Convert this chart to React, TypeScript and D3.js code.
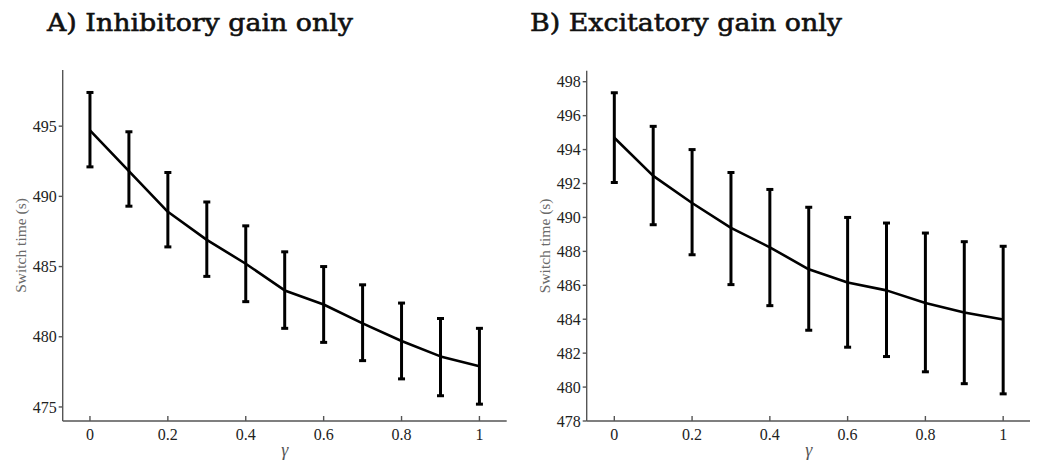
import React from "react";
import * as d3 from "d3";

const gamma = [0, 0.1, 0.2, 0.3, 0.4, 0.5, 0.6, 0.7, 0.8, 0.9, 1];
const inhMean = [494.7, 491.8, 488.9, 486.9, 485.2, 483.3, 482.3, 480.95, 479.7, 478.6, 477.9];
const inhUpper = [497.4, 494.6, 491.7, 489.6, 487.9, 486.05, 485.0, 483.7, 482.4, 481.3, 480.6];
const inhLower = [492.1, 489.3, 486.4, 484.3, 482.5, 480.6, 479.6, 478.3, 477.0, 475.8, 475.2];
const excMean = [494.7, 492.45, 490.85, 489.38, 488.24, 486.94, 486.16, 485.7, 484.96, 484.4, 483.98];
const excUpper = [497.35, 495.37, 494.0, 492.65, 491.65, 490.6, 490.0, 489.67, 489.08, 488.57, 488.3];
const excLower = [492.06, 489.57, 487.8, 486.04, 484.8, 483.35, 482.35, 481.8, 480.9, 480.2, 479.6];
const xTicks = [0, 0.2, 0.4, 0.6, 0.8, 1];
const inhYTicks = [475, 480, 485, 490, 495];
const excYTicks = [478, 480, 482, 484, 486, 488, 490, 492, 494, 496, 498];
const titles = ["A) Inhibitory gain only", "B) Excitatory gain only"];
const yLabel = "Switch time (s)";
const xLabel = "γ";

type PanelProps = {
  title: string;
  titleX: number;
  titleW: number;
  xDomain: [number, number];
  xRange: [number, number];
  yDomain: [number, number];
  yRange: [number, number];
  yTicks: number[];
  mean: number[];
  upper: number[];
  lower: number[];
  yLabelX: number;
};

const serif = "'Liberation Serif', 'Times New Roman', serif";
const titleFont = "'DejaVu Serif', serif";

function Panel(p: PanelProps) {
  const x = d3.scaleLinear().domain(p.xDomain).range(p.xRange);
  const y = d3.scaleLinear().domain(p.yDomain).range(p.yRange);
  const line = d3
    .line<number>()
    .x((_, i) => x(gamma[i]))
    .y((d) => y(d))
    .curve(d3.curveLinear);
  const x0 = p.xRange[0];
  const x1 = p.xRange[1];
  const yb = p.yRange[0];
  const yt = p.yRange[1];
  const axisColor = "#555";
  const tickColor = "#222";
  const cap = 3.5;
  return (
    <g>
      <text x={p.titleX} y={31} fontFamily={titleFont} fontSize={25} fill="#111"
        stroke="#111" strokeWidth={0.6}
        textLength={p.titleW} lengthAdjust="spacingAndGlyphs">
        {p.title}
      </text>
      <line x1={x0} x2={x0} y1={yt} y2={yb} stroke={axisColor} strokeWidth={1.4} />
      <line x1={x0} x2={x1} y1={yb} y2={yb} stroke={axisColor} strokeWidth={1.4} />
      {p.yTicks.map((t) => (
        <g key={"y" + t}>
          <line x1={x0 - 4} x2={x0} y1={y(t)} y2={y(t)} stroke={axisColor} strokeWidth={1.4} />
          <text x={x0 - 6} y={y(t)} dy="0.35em" textAnchor="end" fontFamily={serif} fontSize={16} fill={tickColor}>
            {t}
          </text>
        </g>
      ))}
      {xTicks.map((t) => (
        <g key={"x" + t}>
          <line x1={x(t)} x2={x(t)} y1={yb} y2={yb - 5} stroke={axisColor} strokeWidth={1.4} />
          <text x={x(t)} y={yb + 19} textAnchor="middle" fontFamily={serif} fontSize={16} fill={tickColor}>
            {String(t)}
          </text>
        </g>
      ))}
      <text x={(x(0) + x(1)) / 2} y={yb + 35} textAnchor="middle" fontFamily={serif} fontSize={18}
        fontStyle="italic" fill="#555">
        {xLabel}
      </text>
      <text transform={`translate(${p.yLabelX},${(yt + yb) / 2}) rotate(-90)`} textAnchor="middle"
        dy="0.35em" fontFamily={serif} fontSize={15.5} fill="#6a6a6a">
        {yLabel}
      </text>
      {gamma.map((g, i) => (
        <g key={"e" + i} stroke="#000" strokeWidth={3}>
          <line x1={x(g)} x2={x(g)} y1={y(p.upper[i])} y2={y(p.lower[i])} />
          <line x1={x(g) - cap} x2={x(g) + cap} y1={y(p.upper[i])} y2={y(p.upper[i])} />
          <line x1={x(g) - cap} x2={x(g) + cap} y1={y(p.lower[i])} y2={y(p.lower[i])} />
        </g>
      ))}
      <path d={line(p.mean) || ""} fill="none" stroke="#000" strokeWidth={2.6} strokeLinejoin="round" />
    </g>
  );
}

export default function App() {
  return (
    <svg width={1039} height={463} style={{ position: "absolute", left: 0, top: 0, background: "#fff" }}>
      <rect width={1039} height={463} fill="#fff" />
      <Panel
        title={titles[0]}
        titleX={47}
        titleW={306}
        xDomain={[-0.07, 1.07]}
        xRange={[62.7, 506.7]}
        yDomain={[474, 499]}
        yRange={[421, 70]}
        yTicks={inhYTicks}
        mean={inhMean}
        upper={inhUpper}
        lower={inhLower}
        yLabelX={21}
      />
      <Panel
        title={titles[1]}
        titleX={530}
        titleW={312}
        xDomain={[-0.071, 1.069]}
        xRange={[586.7, 1030]}
        yDomain={[478, 498.65]}
        yRange={[421, 70.7]}
        yTicks={excYTicks}
        mean={excMean}
        upper={excUpper}
        lower={excLower}
        yLabelX={545}
      />
    </svg>
  );
}
